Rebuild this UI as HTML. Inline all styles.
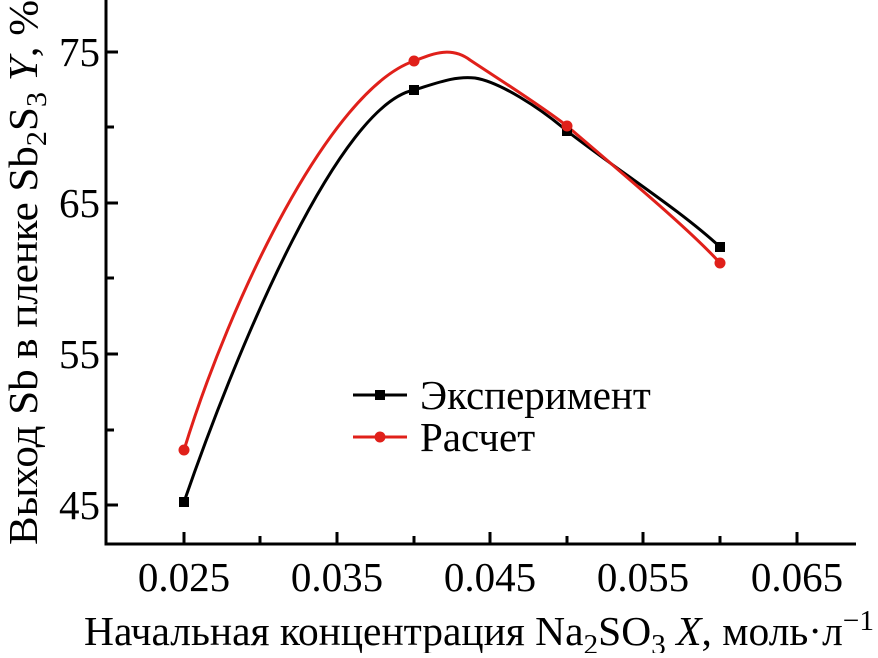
<!DOCTYPE html>
<html><head><meta charset="utf-8"><style>body{margin:0;background:#fff}</style></head><body>
<svg width="878" height="653" viewBox="0 0 878 653" xmlns="http://www.w3.org/2000/svg" font-family="Liberation Serif, serif">
<g stroke="#000" stroke-width="3" fill="none">
<path d="M106,0 V544 H856"/>
<path d="M106,52 h12 M106,127 h8 M106,203 h12 M106,278 h8 M106,354 h12 M106,430 h8 M106,505 h12"/>
<path d="M184,544 v-12 M260,544 v-8 M337,544 v-12 M414,544 v-8 M490,544 v-12 M567,544 v-8 M643,544 v-12 M720,544 v-8 M797,544 v-12"/>
</g>
<path d="M184,502 C240,340 340,105 414,90 C440,82 455,76 475,78 C500,82 540,108 567,131 C620,172 680,210 720,247" stroke="#000" stroke-width="3" fill="none"/>
<path d="M184,450 C230,300 330,90 414,61 C430,55 450,45 470,60 C500,80 540,105 567,126 C630,180 690,230 720,263" stroke="#e0201a" stroke-width="3" fill="none"/>
<g fill="#000"><rect x="179" y="497" width="10" height="10"/><rect x="409" y="85" width="10" height="10"/><rect x="562" y="126" width="10" height="10"/><rect x="715" y="242" width="10" height="10"/><rect x="375" y="390" width="10" height="10"/></g>
<g fill="#e0201a"><circle cx="184" cy="450" r="5.5"/><circle cx="414" cy="61" r="5.5"/><circle cx="567" cy="126" r="5.5"/><circle cx="720" cy="263" r="5.5"/><circle cx="380" cy="437" r="5.5"/></g>
<path d="M353,395 H407" stroke="#000" stroke-width="3"/>
<path d="M353,437 H407" stroke="#e0201a" stroke-width="3"/>
<g font-size="41" fill="#000">
<text x="420" y="409">Эксперимент</text>
<text x="420" y="451">Расчет</text>
<g text-anchor="end"><text x="100" y="66">75</text><text x="100" y="217">65</text><text x="100" y="368">55</text><text x="100" y="519">45</text></g>
<g text-anchor="middle"><text x="184" y="591">0.025</text><text x="337" y="591">0.035</text><text x="490" y="591">0.045</text><text x="643" y="591">0.055</text><text x="797" y="591">0.065</text></g>
<text x="84" y="645" textLength="790" lengthAdjust="spacingAndGlyphs">Начальная концентрация Na<tspan font-size="29" dy="9">2</tspan><tspan dy="-9">SO</tspan><tspan font-size="29" dy="9">3</tspan><tspan dy="-9"> </tspan><tspan font-style="italic">X</tspan>, моль·л<tspan font-size="29" dy="-15">−1</tspan></text>
<text transform="translate(37,545) rotate(-90)" textLength="545" lengthAdjust="spacingAndGlyphs">Выход Sb в пленке Sb<tspan font-size="29" dy="9">2</tspan><tspan dy="-9">S</tspan><tspan font-size="29" dy="9">3</tspan><tspan dy="-9"> </tspan><tspan font-style="italic">Y</tspan>, %</text>
</g>
</svg>
</body></html>
